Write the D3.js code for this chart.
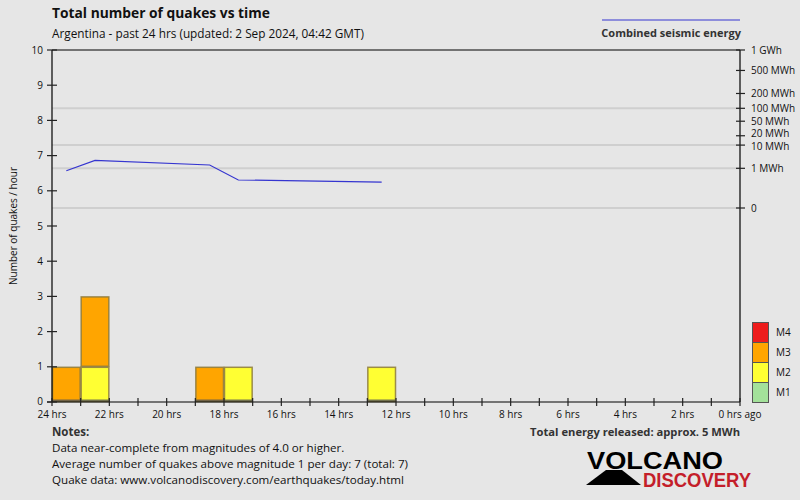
<!DOCTYPE html>
<html><head><meta charset="utf-8">
<script src="https://cdn.jsdelivr.net/npm/d3@7/dist/d3.min.js"></script>
<style>
html,body{margin:0;padding:0;background:#e6e6e6;}
svg{display:block;font-family:"Open Sans","Noto Sans",sans-serif;}
</style></head>
<body><svg id="c" width="800" height="500"></svg>
<script>
// ---- data ----
const binStartHoursAgo = [24, 23, 19, 18, 13];     // 1-hour bins containing quakes
const countM1 = [0, 0, 0, 0, 0];
const countM2 = [0, 1, 0, 1, 1];
const countM3 = [1, 2, 1, 0, 0];
const countM4 = [0, 0, 0, 0, 0];
const energyMWh = [0.73, 2.5, 1.49, 0.175, 0.12];  // combined seismic energy per bin
const yTicks = [0,1,2,3,4,5,6,7,8,9,10];
const xTickHours = d3.range(24, -1, -1);
const xLabelHours = [24,22,20,18,16,14,12,10,8,6,4,2,0];
const energyTickValues = [1000, 500, 200, 100, 50, 20, 10, 1, 0];
const energyTickLabels = ["1 GWh","500 MWh","200 MWh","100 MWh","50 MWh","20 MWh","10 MWh","1 MWh","0"];
const energyGridValues = [100, 10, 1, 0];
const magLabels = ["M4","M3","M2","M1"];
const magColors = {M1:"#a3e19a", M2:"#ffff33", M3:"#ffa500", M4:"#ee1c1c"};

const svg = d3.select("#c");
const L = 52, R = 740, T = 50, B = 402;
const x = d3.scaleLinear().domain([24, 0]).range([L, R]);
const y = d3.scaleLinear().domain([0, 10]).range([B, T]);
const yE = d3.scalePow().exponent(0.2).domain([0, 1000]).range([208, T]);

svg.append("rect").attr("width",800).attr("height",500).attr("fill","#e6e6e6");

// energy grid lines
svg.append("g").selectAll("line").data(energyGridValues).join("line")
  .attr("x1", L).attr("x2", R).attr("y1", d => yE(d)).attr("y2", d => yE(d))
  .attr("stroke", "#cfcfcf").attr("stroke-width", 2);

// bars
const rows = binStartHoursAgo.map((h, i) => ({h, M1: countM1[i], M2: countM2[i], M3: countM3[i], M4: countM4[i]}));
const stack = d3.stack().keys(["M1","M2","M3","M4"])(rows);
const bars = svg.append("g");
stack.forEach(layer => {
  bars.selectAll(null).data(layer.filter(d => d[1] > d[0])).join("rect")
    .attr("x", d => x(d.data.h) + 0.5)
    .attr("width", d => x(d.data.h - 1) - x(d.data.h) - 1)
    .attr("y", d => y(d[1]) + 0.5)
    .attr("height", d => y(d[0]) - y(d[1]) - 1)
    .attr("fill", magColors[layer.key])
    .attr("stroke", "#8c7a3c").attr("stroke-opacity", 0.85).attr("stroke-width", 1.5);
});
// dark base under bars
bars.selectAll(null).data(rows).join("rect")
  .attr("x", d => x(d.h) + 0.5).attr("width", d => x(d.h - 1) - x(d.h) - 1)
  .attr("y", B - 2.5).attr("height", 2).attr("fill", "#555").attr("opacity", 0.8);

// energy line
svg.append("path")
  .datum(binStartHoursAgo.map((h, i) => [x(h - 0.5), yE(energyMWh[i])]))
  .attr("d", d3.line())
  .attr("fill", "none").attr("stroke", "#3535d0").attr("stroke-width", 1.2);

// frame lines
const ax = svg.append("g").attr("stroke", "#000").attr("stroke-width", 1.2);
ax.append("line").attr("x1", L).attr("x2", R).attr("y1", T).attr("y2", T);
ax.append("line").attr("x1", L).attr("x2", L).attr("y1", T).attr("y2", B);
ax.append("line").attr("x1", R).attr("x2", R).attr("y1", T).attr("y2", B);
ax.append("line").attr("x1", L - 5).attr("x2", R).attr("y1", B).attr("y2", B);

// left y axis ticks
const lg = svg.append("g");
lg.selectAll("line").data(yTicks).join("line")
  .attr("x1", L - 5).attr("x2", L + 5).attr("y1", d => y(d)).attr("y2", d => y(d))
  .attr("stroke", "#222").attr("stroke-width", 1.2);
lg.selectAll("text").data(yTicks).join("text")
  .attr("x", L - 9).attr("y", d => y(d) + (d === 0 ? 2.5 : 3.5)).attr("text-anchor", "end")
  .attr("font-size", 10).attr("fill", "#111").text(d => d);

// bottom ticks
const bg = svg.append("g");
bg.selectAll("line").data(xTickHours).join("line")
  .attr("x1", d => x(d)).attr("x2", d => x(d)).attr("y1", B - 4).attr("y2", B + 4)
  .attr("stroke", "#222").attr("stroke-width", 1.2);
bg.selectAll("text").data(xLabelHours).join("text")
  .attr("x", d => x(d)).attr("y", B + 16).attr("text-anchor", "middle")
  .attr("font-size", 10).attr("fill", "#111")
  .text(d => d === 0 ? "0 hrs ago" : d + " hrs");

// right energy axis
const rg = svg.append("g");
rg.selectAll("line").data(energyTickValues).join("line")
  .attr("x1", R - 4).attr("x2", R + 5).attr("y1", d => yE(d)).attr("y2", d => yE(d))
  .attr("stroke", "#222").attr("stroke-width", 1.2);
rg.selectAll("text").data(energyTickValues).join("text")
  .attr("x", R + 11).attr("y", (d, i) => yE(d) + 3.5 + (d === 20 ? -2 : d === 10 ? 1 : 0))
  .attr("font-size", 10).attr("fill", "#111")
  .text((d, i) => energyTickLabels[i]);

// titles
svg.append("text").attr("x", L).attr("y", 18).attr("font-size", 13.8).attr("font-weight", "bold")
  .attr("fill", "#111").text("Total number of quakes vs time");
svg.append("text").attr("x", L).attr("y", 38).attr("font-size", 11.8).attr("fill", "#111")
  .text("Argentina - past 24 hrs (updated: 2 Sep 2024, 04:42 GMT)");
svg.append("text").attr("transform", "translate(17,226) rotate(-90)").attr("text-anchor", "middle")
  .attr("font-size", 10).attr("fill", "#111").text("Number of quakes / hour");

// energy legend
svg.append("line").attr("x1", 602).attr("x2", R).attr("y1", 20).attr("y2", 20)
  .attr("stroke", "#3535d0").attr("stroke-width", 1.1);
svg.append("text").attr("x", R + 1).attr("y", 37).attr("text-anchor", "end")
  .attr("font-size", 11).attr("font-weight", "bold").attr("fill", "#333").text("Combined seismic energy");

// magnitude legend
const mg = svg.append("g");
magLabels.forEach((m, i) => {
  mg.append("rect").attr("x", 752.5).attr("y", 322.5 + i * 20).attr("width", 16).attr("height", 20)
    .attr("fill", magColors[m]).attr("stroke", "#555").attr("stroke-width", 1);
  mg.append("text").attr("x", 776).attr("y", 336 + i * 20).attr("font-size", 10).attr("fill", "#111").text(m);
});

// notes
svg.append("text").attr("x", L).attr("y", 436).attr("font-size", 11.5).attr("font-weight", "bold")
  .attr("fill", "#333").text("Notes:");
const notes = ["Data near-complete from magnitudes of 4.0 or higher.",
  "Average number of quakes above magnitude 1 per day: 7 (total: 7)",
  "Quake data: www.volcanodiscovery.com/earthquakes/today.html"];
notes.forEach((t, i) => svg.append("text").attr("x", L).attr("y", 452 + i * 16)
  .attr("font-size", 11.6).attr("fill", "#111").text(t));
svg.append("text").attr("x", R).attr("y", 436).attr("text-anchor", "end").attr("font-size", 11.2)
  .attr("font-weight", "bold").attr("fill", "#333").text("Total energy released: approx. 5 MWh");

// logo
const logo = svg.append("g");
logo.append("path").attr("d", "M586,485 L606,470 L622,470 L641,485 Z").attr("fill", "#000");
logo.append("text").attr("x", 587).attr("y", 469).attr("font-family", "'Liberation Sans',Arial,sans-serif")
  .attr("font-weight", "bold").attr("font-size", 24).attr("fill", "#000")
  .attr("textLength", 136).attr("lengthAdjust", "spacingAndGlyphs").text("VOLCANO");
logo.append("text").attr("x", 643).attr("y", 487).attr("font-family", "'Liberation Sans',Arial,sans-serif")
  .attr("font-weight", "bold").attr("font-size", 20).attr("fill", "#c41e2a")
  .attr("textLength", 108).attr("lengthAdjust", "spacingAndGlyphs").text("DISCOVERY");
</script></body></html>
